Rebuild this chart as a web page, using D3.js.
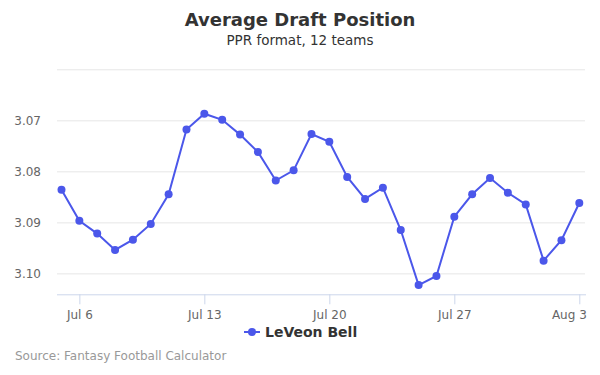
<!DOCTYPE html>
<html>
<head>
<meta charset="utf-8">
<script src="https://cdn.jsdelivr.net/npm/d3@7"></script>
<style>
  body { margin: 0; background: #fff; }
  svg { font-family: "DejaVu Sans", sans-serif; }
</style>
</head>
<body>
<svg id="chart" width="600" height="375"></svg>
<script>
// ADP values, one per day from Jul 5 to Aug 3
let dates = ["2017-07-05", "2017-07-06", "2017-07-07", "2017-07-08", "2017-07-09", "2017-07-10",
  "2017-07-11", "2017-07-12", "2017-07-13", "2017-07-14", "2017-07-15", "2017-07-16",
  "2017-07-17", "2017-07-18", "2017-07-19", "2017-07-20", "2017-07-21", "2017-07-22",
  "2017-07-23", "2017-07-24", "2017-07-25", "2017-07-26", "2017-07-27", "2017-07-28",
  "2017-07-29", "2017-07-30", "2017-07-31", "2017-08-01", "2017-08-02", "2017-08-03"];
let adp = [3.0836, 3.0897, 3.0922, 3.0954, 3.0934, 3.0903, 3.0845, 3.0718, 3.0687, 3.0699,
  3.0728, 3.0762, 3.0818, 3.0798, 3.0727, 3.0742, 3.0811, 3.0854, 3.0832, 3.0915,
  3.1023, 3.1005, 3.0889, 3.0845, 3.0813, 3.0842, 3.0865, 3.0975, 3.0935, 3.0862];
let yTicks = [3.06, 3.07, 3.08, 3.09, 3.10];
let xTicks = ["2017-07-06", "2017-07-13", "2017-07-20", "2017-07-27", "2017-08-03"];
let seriesName = "LeVeon Bell";

let parse = d3.timeParse("%Y-%m-%d");
let data = dates.map((d, i) => ({date: parse(d), value: adp[i]}));

let svg = d3.select("#chart");
let color = "#4b57ea";

let margin = {top: 69.3, right: 15, bottom: 80.7, left: 57};
let plotLeft = margin.left, plotRight = 600 - margin.right;
let plotTop = margin.top, plotBottom = 375 - margin.bottom;

// first and last points sit a bit inside the plot edges
let x = d3.scaleTime()
  .domain([parse(dates[0]), parse(dates[dates.length - 1])])
  .range([61.5, 579.3]);

// reversed axis: smaller ADP on top
let y = d3.scaleLinear()
  .domain([3.06, 3.1041])
  .range([plotTop, plotBottom]);

// title
svg.append("text")
  .attr("x", 300).attr("y", 26)
  .attr("text-anchor", "middle")
  .attr("font-size", 18).attr("font-weight", "bold")
  .attr("fill", "#333")
  .text("Average Draft Position");
svg.append("text")
  .attr("x", 300).attr("y", 45)
  .attr("text-anchor", "middle")
  .attr("font-size", 13.5)
  .attr("fill", "#333")
  .text("PPR format, 12 teams");

// grid
let yAxis = d3.axisLeft(y)
  .tickValues(yTicks)
  .tickSize(-(plotRight - plotLeft))
  .tickPadding(16)
  .tickFormat(d => d === 3.06 ? "" : d3.format(".2f")(d));

let yGroup = svg.append("g")
  .attr("transform", `translate(${plotLeft},0)`)
  .call(yAxis);
yGroup.select(".domain").remove();
yGroup.selectAll(".tick line").attr("stroke", "#e6e6e6");
yGroup.selectAll(".tick text")
  .attr("fill", "#666").attr("font-size", 12)
  .attr("font-family", "DejaVu Sans, sans-serif");

let xAxis = d3.axisBottom(x)
  .tickValues(xTicks.map(parse))
  .tickSize(10)
  .tickSizeOuter(0)
  .tickPadding(6)
  .tickFormat(d3.timeFormat("%b %-d"));

let xGroup = svg.append("g")
  .attr("transform", `translate(0,${plotBottom})`)
  .call(xAxis);
xGroup.select(".domain")
  .attr("d", `M${plotLeft},0.5H${plotRight + 1}`)
  .attr("stroke", "#ccd6eb");
xGroup.selectAll(".tick line").attr("stroke", "#ccd6eb");
xGroup.selectAll(".tick text")
  .attr("fill", "#666").attr("font-size", 12)
  .attr("font-family", "DejaVu Sans, sans-serif");
// last label is pulled in so it stays inside the chart
xGroup.selectAll(".tick text").filter((d, i) => i === xTicks.length - 1)
  .attr("text-anchor", "end").attr("dx", 7);

// series
let line = d3.line()
  .x(d => x(d.date))
  .y(d => y(d.value));

svg.append("path")
  .datum(data)
  .attr("fill", "none")
  .attr("stroke", color)
  .attr("stroke-width", 2)
  .attr("d", line);

svg.append("g").selectAll("circle")
  .data(data)
  .enter().append("circle")
  .attr("cx", d => x(d.date))
  .attr("cy", d => y(d.value))
  .attr("r", 4)
  .attr("fill", color);

// legend
let legend = svg.append("g").attr("transform", "translate(244,332)");
legend.append("line")
  .attr("x1", 0).attr("x2", 16)
  .attr("stroke", color).attr("stroke-width", 2);
legend.append("circle")
  .attr("cx", 8).attr("r", 4).attr("fill", color);
legend.append("text")
  .attr("x", 21).attr("y", 5)
  .attr("font-size", 14).attr("font-weight", "bold")
  .attr("fill", "#333")
  .text(seriesName);

// credits
svg.append("text")
  .attr("x", 15).attr("y", 360)
  .attr("font-size", 12)
  .attr("fill", "#999")
  .text("Source: Fantasy Football Calculator");
</script>
</body>
</html>
